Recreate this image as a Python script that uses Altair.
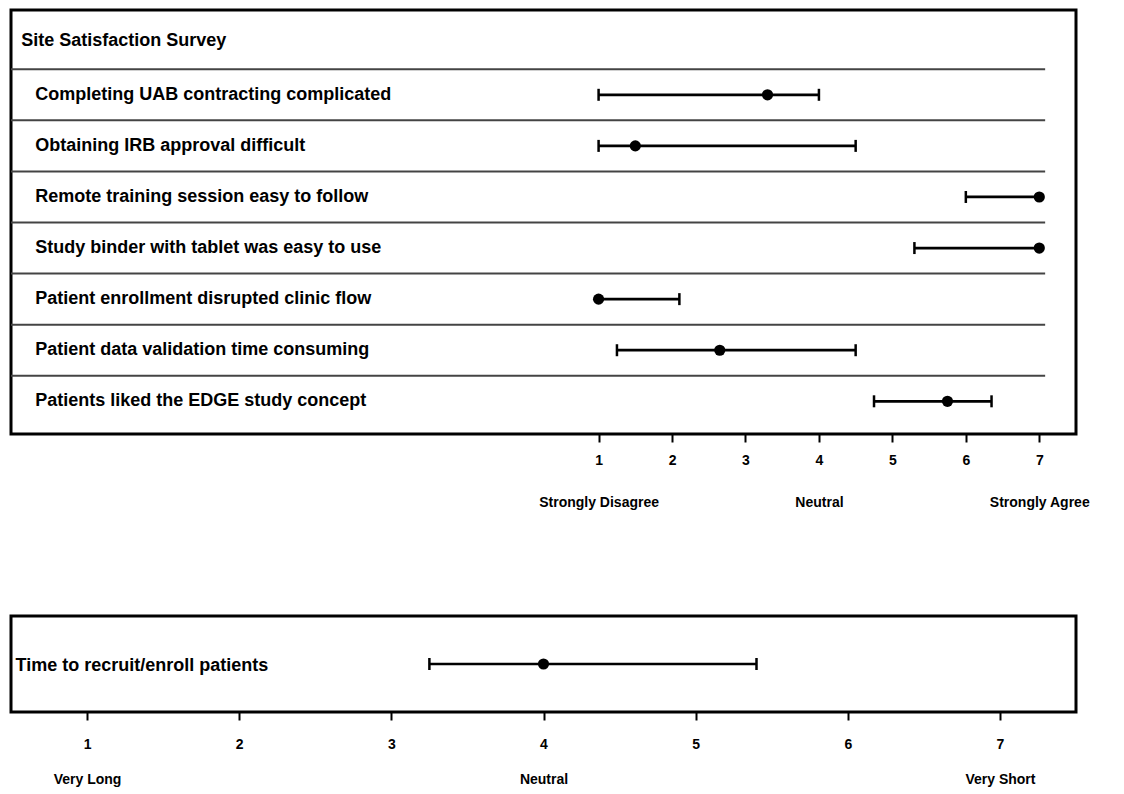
import altair as alt
import pandas as pd

# ---------------- data ----------------
title_text = "Site Satisfaction Survey"
questions = [
    "Completing UAB contracting complicated",
    "Obtaining IRB approval difficult",
    "Remote training session easy to follow",
    "Study binder with tablet was easy to use",
    "Patient enrollment disrupted clinic flow",
    "Patient data validation time consuming",
    "Patients liked the EDGE study concept",
]
means = [3.3, 1.5, 7.0, 7.0, 1.0, 2.65, 5.75]
lows = [1.0, 1.0, 6.0, 5.3, 1.0, 1.25, 4.75]
highs = [4.0, 4.5, 7.0, 7.0, 2.1, 4.5, 6.35]

scale_ticks = [1, 2, 3, 4, 5, 6, 7]
agree_labels = {1: "Strongly Disagree", 4: "Neutral", 7: "Strongly Agree"}

time_question = ["Time to recruit/enroll patients"]
time_means = [4.0]
time_lows = [3.25]
time_highs = [5.4]
time_labels = {1: "Very Long", 4: "Neutral", 7: "Very Short"}

# ---------------- styling ----------------
FONT = "Liberation Sans"
INK = "#000000"
SEP = "#444444"

n = len(questions)
survey = pd.DataFrame({
    "question": questions,
    "mean": means,
    "low": lows,
    "high": highs,
    "row": [n - i for i in range(n)],
})
survey["sep"] = survey["row"] + 0.5
title_df = pd.DataFrame({"t": [title_text], "row": [n + 1]})


def label_expr(extra):
    parts = []
    for v, txt in extra.items():
        parts.append(f"datum.value == {v} ? ['{v}', '{txt}']")
    return " : ".join(parts) + " : format(datum.value, 'd')"


def make_axis(extra, line_height, padding):
    return alt.Axis(
        values=scale_ticks,
        format="d",
        labelExpr=label_expr(extra),
        domain=False,
        grid=False,
        ticks=True,
        tickSize=8,
        tickWidth=2,
        tickColor=INK,
        labelFont=FONT,
        labelFontSize=14,
        labelFontWeight="bold",
        labelColor=INK,
        labelPadding=padding,
        labelLineHeight=line_height,
        labelOverlap=False,
        labelFlush=False,
        labelAlign="center",
        labelBaseline="top",
        title=None,
    )


# ---------------- top panel ----------------
xs_top = alt.Scale(domain=[-7, 7.5], nice=False, zero=False)
ys_top = alt.Scale(domain=[0.36, 8.66], nice=False, zero=False)

base_top = alt.Chart(survey)

seps = base_top.mark_rule(color=SEP, strokeWidth=2).encode(
    x=alt.X("x0:Q", scale=xs_top, axis=make_axis(agree_labels, 42, 11)),
    x2="x1:Q",
    y=alt.Y("sep:Q", scale=ys_top, axis=None),
).transform_calculate(x0="-7", x1="7.08")

bars = base_top.mark_rule(color=INK, strokeWidth=2.7).encode(
    x=alt.X("low:Q", scale=xs_top),
    x2="high:Q",
    y=alt.Y("row:Q", scale=ys_top),
)

caps = base_top.transform_fold(["low", "high"], as_=["end", "val"]).transform_filter(
    "datum.val != datum.mean"
).mark_tick(orient="vertical", color=INK, thickness=2.5, size=12, opacity=1).encode(
    x=alt.X("val:Q", scale=xs_top),
    y=alt.Y("row:Q", scale=ys_top),
)

points = base_top.mark_circle(color=INK, size=125, opacity=1).encode(
    x=alt.X("mean:Q", scale=xs_top),
    y=alt.Y("row:Q", scale=ys_top),
)

labels = base_top.mark_text(
    align="left", baseline="middle", font=FONT, fontSize=18, fontWeight="bold", color=INK
).encode(
    x=alt.datum(-6.67, scale=xs_top),
    y=alt.Y("row:Q", scale=ys_top),
    text="question:N",
)

title_layer = alt.Chart(title_df).mark_text(
    align="left", baseline="middle", font=FONT, fontSize=18, fontWeight="bold",
    color=INK, dy=-3,
).encode(
    x=alt.datum(-6.86, scale=xs_top),
    y=alt.Y("row:Q", scale=ys_top),
    text="t:N",
)

top = alt.layer(seps, bars, caps, points, labels, title_layer).properties(
    width=1065, height=424
)

# ---------------- bottom panel ----------------
time_df = pd.DataFrame({
    "question": time_question,
    "mean": time_means,
    "low": time_lows,
    "high": time_highs,
    "row": [1.0],
})
xs_bot = alt.Scale(domain=[0.5, 7.5], nice=False, zero=False)
ys_bot = alt.Scale(domain=[0.45, 1.55], nice=False, zero=False)
base_bot = alt.Chart(time_df)

bbars = base_bot.mark_rule(color=INK, strokeWidth=2.7).encode(
    x=alt.X("low:Q", scale=xs_bot, axis=make_axis(time_labels, 35, 17)),
    x2="high:Q",
    y=alt.Y("row:Q", scale=ys_bot, axis=None),
)
bcaps = base_bot.transform_fold(["low", "high"], as_=["end", "val"]).mark_tick(
    orient="vertical", color=INK, thickness=2.5, size=12, opacity=1
).encode(
    x=alt.X("val:Q", scale=xs_bot),
    y=alt.Y("row:Q", scale=ys_bot),
)
bpoints = base_bot.mark_circle(color=INK, size=125, opacity=1).encode(
    x=alt.X("mean:Q", scale=xs_bot),
    y=alt.Y("row:Q", scale=ys_bot),
)
blabel = base_bot.mark_text(
    align="left", baseline="middle", font=FONT, fontSize=18, fontWeight="bold",
    color=INK, dy=2,
).encode(
    x=alt.datum(0.53, scale=xs_bot),
    y=alt.Y("row:Q", scale=ys_bot),
    text="question:N",
)
bottom = alt.layer(bbars, bcaps, bpoints, blabel).properties(width=1065, height=96)

chart = alt.vconcat(top, bottom, spacing=103).properties(
    padding={"left": 0, "top": 0, "right": 20, "bottom": 5},
    background="white",
).configure_view(stroke=INK, strokeWidth=3, fill="white")

chart.save("out.html", embed_options={"renderer": "svg", "actions": False})
